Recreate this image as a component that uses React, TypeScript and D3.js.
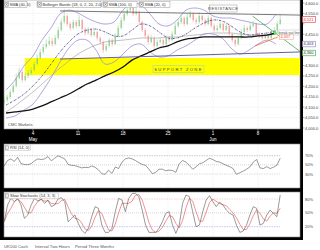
import React from 'react';
import * as d3 from 'd3';

const FONT = '"Liberation Sans", Arial, sans-serif';

// ---- axis data ----
const dayTicks = [0, 5, 10, 15, 20, 25];
const dayLabels = ['4', '11', '18', '25', '1', '8'];
const monthTicks = [0, 20];
const monthLabels = ['May', 'Jun'];
const priceTicks = [4000, 4050, 4100, 4150, 4200, 4250, 4300, 4350, 4400, 4450, 4500, 4550, 4600];
const rsiTicks = [70, 50, 30];
const stochTicks = [80, 50, 20];

// ---- 2-hour candles (UK100 cash) ----
const FIRST_BAR_DAY = -3.2;
const BARS_PER_DAY = 3;
const opens = [4120, 4134, 4149, 4173, 4202, 4240, 4269, 4230, 4250, 4264, 4278, 4307, 4336, 4365, 4389, 4403, 4418, 4403, 4432, 4470, 4509, 4538, 4499, 4480, 4509, 4490, 4518, 4475, 4456, 4470, 4446, 4461, 4432, 4413, 4374, 4394, 4422, 4403, 4442, 4480, 4518, 4547, 4566, 4576, 4547, 4557, 4509, 4470, 4442, 4413, 4432, 4394, 4413, 4422, 4403, 4432, 4422, 4451, 4490, 4509, 4528, 4499, 4533, 4547, 4518, 4509, 4538, 4518, 4499, 4528, 4490, 4470, 4480, 4499, 4470, 4490, 4451, 4422, 4403, 4432, 4461, 4480, 4470, 4490, 4499, 4451, 4442, 4432, 4442, 4432, 4451, 4470, 4500];
const closes = [4134, 4149, 4173, 4202, 4240, 4269, 4230, 4250, 4264, 4278, 4307, 4336, 4365, 4389, 4403, 4418, 4403, 4432, 4470, 4509, 4538, 4499, 4480, 4509, 4490, 4518, 4475, 4456, 4470, 4446, 4461, 4432, 4413, 4374, 4394, 4422, 4403, 4442, 4480, 4518, 4547, 4566, 4576, 4547, 4557, 4509, 4470, 4442, 4413, 4432, 4394, 4413, 4422, 4403, 4432, 4422, 4451, 4490, 4509, 4528, 4499, 4533, 4547, 4518, 4509, 4538, 4518, 4499, 4528, 4490, 4470, 4480, 4499, 4470, 4490, 4451, 4422, 4403, 4432, 4461, 4480, 4470, 4490, 4499, 4451, 4442, 4432, 4442, 4432, 4451, 4470, 4500, 4521];
const highs = [4150, 4160, 4185, 4215, 4262, 4290, 4280, 4262, 4278, 4290, 4320, 4352, 4380, 4402, 4425, 4440, 4432, 4445, 4485, 4525, 4572, 4545, 4510, 4520, 4518, 4540, 4525, 4482, 4485, 4478, 4474, 4468, 4440, 4420, 4405, 4432, 4430, 4455, 4494, 4532, 4562, 4582, 4595, 4585, 4575, 4562, 4515, 4478, 4450, 4446, 4440, 4425, 4435, 4430, 4445, 4440, 4465, 4505, 4525, 4548, 4535, 4550, 4565, 4555, 4530, 4556, 4545, 4525, 4542, 4535, 4498, 4494, 4512, 4506, 4502, 4496, 4458, 4430, 4445, 4475, 4495, 4488, 4505, 4515, 4505, 4460, 4450, 4455, 4452, 4465, 4485, 4515, 4545];
const lows = [4110, 4125, 4140, 4165, 4195, 4232, 4218, 4222, 4240, 4255, 4270, 4300, 4328, 4355, 4380, 4395, 4390, 4396, 4425, 4462, 4500, 4488, 4468, 4472, 4478, 4484, 4465, 4444, 4448, 4436, 4438, 4420, 4400, 4360, 4366, 4386, 4392, 4398, 4435, 4472, 4510, 4538, 4555, 4538, 4540, 4498, 4460, 4430, 4400, 4405, 4380, 4385, 4405, 4392, 4396, 4412, 4415, 4445, 4482, 4500, 4488, 4492, 4525, 4508, 4498, 4502, 4508, 4488, 4492, 4480, 4460, 4462, 4472, 4460, 4464, 4440, 4410, 4390, 4396, 4425, 4455, 4460, 4464, 4482, 4440, 4432, 4420, 4426, 4422, 4426, 4445, 4462, 4495];

// ---- overlay indicators, one value per trading day ----
const lineDays = d3.range(-3, 28);
const sma100 = [4072, 4077, 4082, 4091, 4106, 4125, 4144, 4163, 4187, 4211, 4230, 4250, 4269, 4293, 4326, 4346, 4365, 4384, 4394, 4413, 4427, 4432, 4437, 4437, 4437, 4437, 4437, 4437, 4442, 4446, 4456];
const sma40 = [4077, 4106, 4139, 4173, 4211, 4250, 4288, 4322, 4355, 4379, 4398, 4413, 4418, 4422, 4427, 4432, 4432, 4432, 4437, 4437, 4442, 4446, 4451, 4456, 4456, 4456, 4451, 4446, 4446, 4446, 4451];
const sma20 = [4110, 4134, 4163, 4202, 4250, 4307, 4365, 4413, 4451, 4470, 4475, 4461, 4442, 4442, 4470, 4499, 4490, 4461, 4432, 4432, 4451, 4480, 4504, 4518, 4514, 4490, 4461, 4446, 4451, 4456, 4466];
const bbUpper = [4182, 4230, 4298, 4346, 4422, 4480, 4547, 4566, 4552, 4528, 4509, 4499, 4509, 4566, 4600, 4590, 4547, 4499, 4490, 4518, 4566, 4576, 4566, 4538, 4528, 4528, 4518, 4509, 4499, 4499, 4547];
const bbLower = [4048, 4058, 4086, 4115, 4173, 4240, 4317, 4384, 4422, 4422, 4374, 4307, 4317, 4355, 4394, 4403, 4365, 4341, 4346, 4374, 4394, 4422, 4451, 4451, 4432, 4384, 4355, 4374, 4403, 4422, 4403];

// ---- drawn annotations (day, value) ----
const resistanceDays = [3, 29.67];
const resistanceValues = [4562, 4542];
const supportDays = [3, 29.67];
const supportValues = [4331, 4365];
const zoneDays = [-0.9, 29.67];
const zoneValues = [4254, 4336];
const trendDays = [24.4, 29.9];
const trendValues = [4537, 4360];
const orangeDays = [24.67, 27.2];
const orangeValues = [4394, 4437];
const breakoutDay = 26.9;
const breakoutValue = 4456;

// ---- oscillators ----
const rsi = [47.5, 59.5, 63, 57.4, 66.5, 52.5, 51, 50.3, 52.5, 58.8, 63, 61.6, 63, 67.9, 58.8, 64.4, 70, 66.5, 63, 51, 48.9, 48.2, 46.1, 43.3, 44.7, 44, 47.5, 44.7, 39.1, 30.7, 29.3, 38.4, 31.4, 45.4, 41.9, 56, 63, 65.1, 63, 59.5, 54.6, 51, 48.9, 40.5, 30.7, 33.5, 40.5, 40.5, 37, 38.4, 37.7, 33.5, 52.5, 59.5, 56, 48.9, 40.5, 45.4, 52.5, 54.6, 59.5, 64.4, 61.6, 57.4, 56, 52.5, 48.9, 46.1, 41.9, 29.3, 32.8, 36.3, 40.5, 45.4, 56, 61.6, 43.3, 41.9, 46.1, 41.9, 44.7, 48.9, 64.4];
const stochK = [30.8, 67, 81.4, 74.2, 81.4, 67, 38.1, 45.3, 67, 81.4, 75.7, 80, 70.6, 77.8, 63.4, 67, 80, 82.9, 74.2, 30.8, 38.1, 45.3, 27.2, 12.8, 5.5, 16.4, 41.7, 63.4, 59.8, 23.6, 7.7, 7.7, 16.4, 52.5, 81.4, 77.8, 52.5, 81.4, 91.6, 92.3, 85.1, 56.1, 23.6, 7.7, 7.7, 7.7, 16.4, 30.8, 48.9, 52.5, 23.6, 5.5, 23.6, 70.6, 88.7, 85.1, 52.5, 20, 23.6, 52.5, 77.8, 87.2, 74.2, 63.4, 72.8, 67, 56.1, 48.9, 45.3, 23.6, 7.7, 10.6, 23.6, 45.3, 63.4, 59.8, 23.6, 27.2, 45.3, 56.1, 48.9, 41.7, 88.7];

const legendItems = ['SMA (40, 0)', 'Bollinger Bands (18, 0, 2, 20, 2.0)', 'SMA (100, 0)', 'SMA (20, 0)'];
const legendX = [4, 37, 103, 139];
const legendW = [23, 64, 34, 31];

const fmtInt = d3.format(',.0f');
const fmtAxis = d3.format(',.1f');

export default function App() {
  const x = d3.scaleLinear().domain([0, 25]).range([33, 258]);
  const yP = d3.scaleLinear().domain([4000, 4600]).range([128, 3]);
  const yR = d3.scaleLinear().domain([30, 70]).range([174, 155.7]);
  const yS = d3.scaleLinear().domain([20, 80]).range([226.7, 199]);

  const nBars = closes.length;
  const barDay = (i: number) => FIRST_BAR_DAY + i / BARS_PER_DAY;
  const lastDay = barDay(nBars - 1);
  const oscDay = (k: number, n: number) => FIRST_BAR_DAY + (k * (lastDay - FIRST_BAR_DAY)) / (n - 1);

  const mkLine = (days: number[], vals: number[], ys: any, curve: any = d3.curveLinear) =>
    d3.line<number>().x((_, i) => x(days[i])).y((v) => ys(v)).curve(curve)(vals) || '';
  const mkOsc = (vals: number[], ys: any) =>
    d3.line<number>().x((_, k) => x(oscDay(k, vals.length))).y((v) => ys(v))(vals) || '';

  const stochD = stochK.map((_, i) => d3.mean(stochK.slice(Math.max(0, i - 2), i + 1)) as number);

  const xEnd = x(lastDay);
  const smooth = d3.curveCatmullRom.alpha(0.5);

  const boxValues = [closes[nBars - 1], bbLower[bbLower.length - 1], trendValues[1]];
  const boxYs = boxValues.map((v) => yP(v));
  const visibleTicks = priceTicks.filter((v) => boxYs.every((by) => Math.abs(yP(v) - by) > 5));

  const boxLabel = (cx: number, cy: number, text: string, stroke: string, fill: string, w: number) => (
    <g>
      <rect x={cx} y={cy - 2.8} width={w} height={5.6} fill="#fff" stroke={stroke} strokeWidth={0.6} />
      <text x={cx + 1} y={cy + 1.4} fontSize={4} fill={fill}>{text}</text>
    </g>
  );

  return (
    <svg width={320} height={250} style={{ position: 'fixed', left: 0, top: 0 }} fontFamily={FONT}>
      <defs>
        <clipPath id="mainClip"><rect x={4} y={0} width={296} height={129} /></clipPath>
        <clipPath id="rsiClip"><rect x={4} y={144} width={296} height={44} /></clipPath>
        <clipPath id="stClip"><rect x={4} y={192} width={296} height={45} /></clipPath>
      </defs>
      <rect width={320} height={250} fill="#fff" />
      <rect x={0} y={0} width={303} height={240} fill="#000" />

      {/* panels */}
      <rect x={4} y={0} width={296} height={129} fill="#fff" stroke="#8a8a8a" strokeWidth={0.6} />
      <rect x={4} y={144} width={296} height={44} fill="#fff" stroke="#8a8a8a" strokeWidth={0.6} />
      <rect x={4} y={192} width={296} height={45} fill="#fff" stroke="#8a8a8a" strokeWidth={0.6} />

      {/* grid */}
      {priceTicks.map((v) => (
        <line key={'hg' + v} x1={4} x2={300} y1={yP(v)} y2={yP(v)} stroke="#d6d6d6" strokeWidth={0.5} strokeDasharray="1,1.5" />
      ))}
      {dayTicks.map((d) => (
        <g key={'vg' + d}>
          <line x1={x(d)} x2={x(d)} y1={0} y2={129} stroke="#d6d6d6" strokeWidth={0.5} strokeDasharray="1,1.5" />
          <line x1={x(d)} x2={x(d)} y1={144} y2={188} stroke="#d6d6d6" strokeWidth={0.5} strokeDasharray="1,1.5" />
          <line x1={x(d)} x2={x(d)} y1={192} y2={237} stroke="#d6d6d6" strokeWidth={0.5} strokeDasharray="1,1.5" />
        </g>
      ))}

      {/* main panel */}
      <g clipPath="url(#mainClip)">
        <rect x={x(zoneDays[0])} y={yP(zoneValues[1])} width={x(zoneDays[1]) - x(zoneDays[0])}
          height={yP(zoneValues[0]) - yP(zoneValues[1])} fill="#ffff00" />
        {closes.map((c, i) => {
          const o = opens[i];
          const up = c >= o;
          const col = up ? '#86cc86' : '#ef9494';
          const cx = x(barDay(i));
          const top = yP(Math.max(o, c));
          const bot = yP(Math.min(o, c));
          return (
            <g key={'c' + i}>
              <line x1={cx} x2={cx} y1={yP(highs[i])} y2={yP(lows[i])} stroke={col} strokeWidth={0.5} />
              <rect x={cx - 0.55} y={top} width={1.1} height={Math.max(0.5, bot - top)} fill={col} />
            </g>
          );
        })}
        <path d={mkLine(lineDays, sma40, yP, smooth)} fill="none" stroke="#a8a8a8" strokeWidth={0.7} />
        <path d={mkLine(lineDays, bbUpper, yP, smooth)} fill="none" stroke="#9d90d4" strokeWidth={0.8} />
        <path d={mkLine(lineDays, bbLower, yP, smooth)} fill="none" stroke="#9d90d4" strokeWidth={0.8} />
        <path d={mkLine(lineDays, sma20, yP, smooth)} fill="none" stroke="#3f3380" strokeWidth={0.8} strokeDasharray="2,1,0.6,1" />
        <path d={mkLine(lineDays, sma100, yP, smooth)} fill="none" stroke="#111" strokeWidth={1.3} />

        <path d={mkLine(resistanceDays, resistanceValues, yP)} fill="none" stroke="#555" strokeWidth={0.8} />
        <path d={mkLine(supportDays, supportValues, yP)} fill="none" stroke="#5a4d86" strokeWidth={0.9} />
        <path d={mkLine(trendDays, trendValues, yP)} fill="none" stroke="#2f9a3a" strokeWidth={0.7} />
        <path d={mkLine(orangeDays, orangeValues, yP)} fill="none" stroke="#f26a3a" strokeWidth={0.8} />
        <circle cx={x(breakoutDay)} cy={yP(breakoutValue)} r={1.6} fill="#4cf04c" />

        {/* legend */}
        {legendItems.map((t, i) => (
          <g key={'lg' + i}>
            <rect x={legendX[i]} y={1.5} width={legendW[i]} height={6} fill="#fff" stroke="#9a9a9a" strokeWidth={0.5} />
            <rect x={legendX[i] + 0.8} y={2.6} width={3.6} height={3.6} fill="#eee" stroke="#666" strokeWidth={0.4} />
            <path d={`M${legendX[i] + 1.4},${3.2}L${legendX[i] + 3.8},${5.6}M${legendX[i] + 3.8},${3.2}L${legendX[i] + 1.4},${5.6}`} stroke="#444" strokeWidth={0.4} />
            <text x={legendX[i] + 5.5} y={6} fontSize={4} fill="#333">{t}</text>
          </g>
        ))}

        {/* RESISTANCE label */}
        <rect x={209.5} y={5} width={27.5} height={7} fill="#fff" stroke="#999" strokeWidth={0.5} />
        <text x={223.2} y={10} fontSize={4} fill="#444" textAnchor="middle" letterSpacing={0.5}>RESISTANCE</text>

        {/* SUPPORT ZONE label */}
        <rect x={153} y={65.5} width={51} height={7} fill="none" stroke="#9cc" strokeWidth={0.5} />
        <text x={178.5} y={70.5} fontSize={4.2} fill="#444" textAnchor="middle" letterSpacing={1.3}>SUPPORT ZONE</text>

        {/* breakout labels */}
        <rect x={277.5} y={30} width={22.5} height={5} fill="#fff" stroke="#aaa" strokeWidth={0.4} />
        <text x={278.5} y={34} fontSize={3.6} fill="#555">break out line</text>
        <rect x={279.5} y={yP(orangeValues[1]) - 2.2} width={14} height={4.8} fill="#fff" stroke="#f59a8a" strokeWidth={0.5} />
        <text x={280.5} y={yP(orangeValues[1]) + 1.5} fontSize={3.8} fill="#e0503c">{fmtInt(orangeValues[1])}</text>

        <text x={8} y={126} fontSize={4} fill="#444">CMC Markets</text>
      </g>

      {/* x axis band labels */}
      {dayTicks.map((d, i) => (
        <g key={'xl' + d}>
          <line x1={x(d)} x2={x(d)} y1={129} y2={131} stroke="#ccc" strokeWidth={0.5} />
          <text x={x(d)} y={135} fontSize={4.5} fill="#fff" textAnchor="middle">{dayLabels[i]}</text>
        </g>
      ))}
      {monthTicks.map((d, i) => (
        <text key={'ml' + d} x={x(d)} y={141} fontSize={4.5} fill="#fff" textAnchor="middle">{monthLabels[i]}</text>
      ))}

      {/* right price axis */}
      {priceTicks.map((v) => (
        <line key={'ptk' + v} x1={303} x2={304.5} y1={yP(v)} y2={yP(v)} stroke="#555" strokeWidth={0.5} />
      ))}
      {visibleTicks.map((v) => (
        <text key={'pt' + v} x={305} y={yP(v) + 1.5} fontSize={4} fill="#444">{fmtAxis(v)}</text>
      ))}
      {boxLabel(302.5, boxYs[0], fmtInt(boxValues[0]), '#d33', '#d33', 13)}
      {boxLabel(302.5, boxYs[1], fmtInt(boxValues[1]), '#8a7cc8', '#333', 13)}
      {boxLabel(302.5, boxYs[2], fmtInt(boxValues[2]), '#3a3', '#333', 13)}

      {/* RSI panel */}
      <g clipPath="url(#rsiClip)">
        <line x1={4} x2={xEnd} y1={yR(70)} y2={yR(70)} stroke="#999" strokeWidth={0.5} strokeDasharray="1.5,1" />
        <line x1={4} x2={xEnd} y1={yR(50)} y2={yR(50)} stroke="#aaa" strokeWidth={0.5} strokeDasharray="1,1" />
        <line x1={4} x2={xEnd} y1={yR(30)} y2={yR(30)} stroke="#bbb" strokeWidth={0.5} strokeDasharray="1.5,1" />
        <path d={mkOsc(rsi, yR)} fill="none" stroke="#555" strokeWidth={0.6} />
        <rect x={4.5} y={145} width={26} height={5.5} fill="#fff" stroke="#aaa" strokeWidth={0.4} />
        <rect x={5.2} y={145.9} width={3.6} height={3.6} fill="#eee" stroke="#666" strokeWidth={0.4} />
        <text x={10} y={149.3} fontSize={4} fill="#333">RSI (14, 0)</text>
      </g>
      {rsiTicks.map((v) => (
        <text key={'rt' + v} x={305} y={yR(v) + 1.5} fontSize={4} fill="#444">{v}%</text>
      ))}

      {/* Stochastic panel */}
      <g clipPath="url(#stClip)">
        <line x1={4} x2={xEnd} y1={yS(80)} y2={yS(80)} stroke="#f4a0a0" strokeWidth={0.5} strokeDasharray="1.5,1" />
        <line x1={4} x2={xEnd} y1={yS(50)} y2={yS(50)} stroke="#aaa" strokeWidth={0.5} strokeDasharray="1,1" />
        <line x1={4} x2={xEnd} y1={yS(20)} y2={yS(20)} stroke="#8f8ff0" strokeWidth={0.5} strokeDasharray="1.5,1" />
        <path d={mkOsc(stochD, yS)} fill="none" stroke="#e84a4a" strokeWidth={0.6} />
        <path d={mkOsc(stochK, yS)} fill="none" stroke="#555" strokeWidth={0.6} />
        <rect x={4.5} y={193} width={54} height={5.5} fill="#fff" stroke="#aaa" strokeWidth={0.4} />
        <rect x={5.2} y={193.9} width={3.6} height={3.6} fill="#eee" stroke="#666" strokeWidth={0.4} />
        <text x={10} y={197.3} fontSize={4} fill="#333">Slow Stochastic (14, 3, 3)</text>
      </g>
      {stochTicks.map((v) => (
        <text key={'st' + v} x={305} y={yS(v) + 1.5} fontSize={4} fill="#444">{v}%</text>
      ))}

      {/* footer */}
      <text x={4} y={247.5} fontSize={4.2} fill="#555">UK100 Cash</text>
      <text x={35} y={247.5} fontSize={4.2} fill="#555">Interval Two Hours</text>
      <text x={75} y={247.5} fontSize={4.2} fill="#555">Period Three Months</text>
    </svg>
  );
}
